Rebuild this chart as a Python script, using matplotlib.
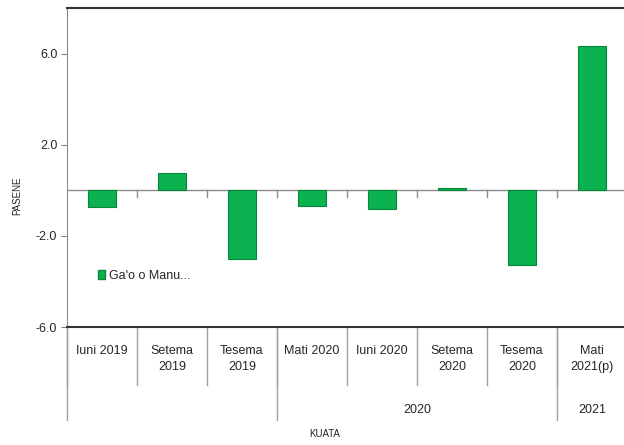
import numpy as np
import matplotlib.pyplot as plt
from matplotlib.patches import Patch

# ─── DATA ───────────────────────────────────────────────
quarters = ["Iuni 2019", "Setema\n2019", "Tesema\n2019", "Mati 2020",
            "Iuni 2020", "Setema\n2020", "Tesema\n2020", "Mati\n2021(p)"]
values = [-0.72, 0.74, -3.03, -0.67, -0.80, 0.09, -3.29, 6.35]
year_groups = ["", "2020", "2021"]
group_sizes = [3, 4, 1]
series_name = "Ga'o o Manu..."
y_ticks = [-6.0, -2.0, 2.0, 6.0]

BAR_COLOR = "#0BB24F"
EDGE_COLOR = "#08863B"
TEXT_COLOR = "#262626"
FONT = "Liberation Sans"


def main():
    plt.rcParams["font.family"] = [FONT, "DejaVu Sans"]
    fig = plt.figure(figsize=(6.24, 4.45), dpi=100)
    ax = fig.add_axes([67 / 624, 1 - 327 / 445, 560 / 624, 319 / 445])

    x = np.arange(len(quarters))
    ax.bar(x, values, width=0.4, color=BAR_COLOR, edgecolor=EDGE_COLOR,
           linewidth=0.8, zorder=3)

    ax.set_xlim(-0.5, len(quarters) - 0.5)
    ax.set_ylim(-6, 8)
    ax.set_yticks(y_ticks)
    ax.set_yticklabels([f"{v:.1f}" for v in y_ticks], fontsize=9, color=TEXT_COLOR)
    ax.tick_params(axis="y", length=4, color="#808080", pad=3)

    # zero line with category tick marks
    ax.axhline(0, color="#8C8C8C", lw=1.0, zorder=2)
    ax.set_xticks([])
    for b in np.arange(-0.5, len(quarters), 1.0)[1:]:
        ax.plot([b, b], [0, -0.28], color="#8C8C8C", lw=1.0, zorder=2)

    ax.spines["right"].set_visible(False)
    ax.spines["top"].set_color("#333333")
    ax.spines["top"].set_linewidth(1.5)
    ax.spines["bottom"].set_color("#333333")
    ax.spines["bottom"].set_linewidth(1.5)
    ax.spines["left"].set_color("#8C8C8C")

    # multi-level category axis
    xt = ax.get_xaxis_transform()
    for i, q in enumerate(quarters):
        ax.text(i, -0.056, q, transform=xt, ha="center", va="top",
                fontsize=9, color=TEXT_COLOR, linespacing=1.45)
    bounds = np.arange(-0.5, len(quarters) + 0.5, 1.0)
    for b in bounds:
        ax.plot([b, b], [0, -0.182], transform=xt, color="#A0A0A0",
                lw=1.0, clip_on=False)
    start = -0.5
    for g, n in zip(year_groups, group_sizes):
        ax.plot([start, start], [0, -0.292], transform=xt, color="#A0A0A0",
                lw=1.0, clip_on=False)
        if g:
            ax.text(start + n / 2, -0.26, g, transform=xt, ha="center",
                    va="center", fontsize=9, color=TEXT_COLOR)
        start += n

    fig.text(325 / 624, 1 - 434 / 445, "KUATA", ha="center", va="center",
             fontsize=7, color=TEXT_COLOR)
    fig.text(17 / 624, 1 - 196 / 445, "PASENE", ha="center", va="center",
             rotation=90, fontsize=7, color=TEXT_COLOR)

    handle = Patch(facecolor=BAR_COLOR, edgecolor=EDGE_COLOR)
    ax.legend([handle], [series_name], loc="center left",
              bbox_to_anchor=(0.035, 0.16), frameon=False, fontsize=9,
              handlelength=0.6, handleheight=0.7, handletextpad=0.3,
              labelcolor=TEXT_COLOR)

    fig.savefig("out.png", dpi=100)


if __name__ == "__main__":
    main()
